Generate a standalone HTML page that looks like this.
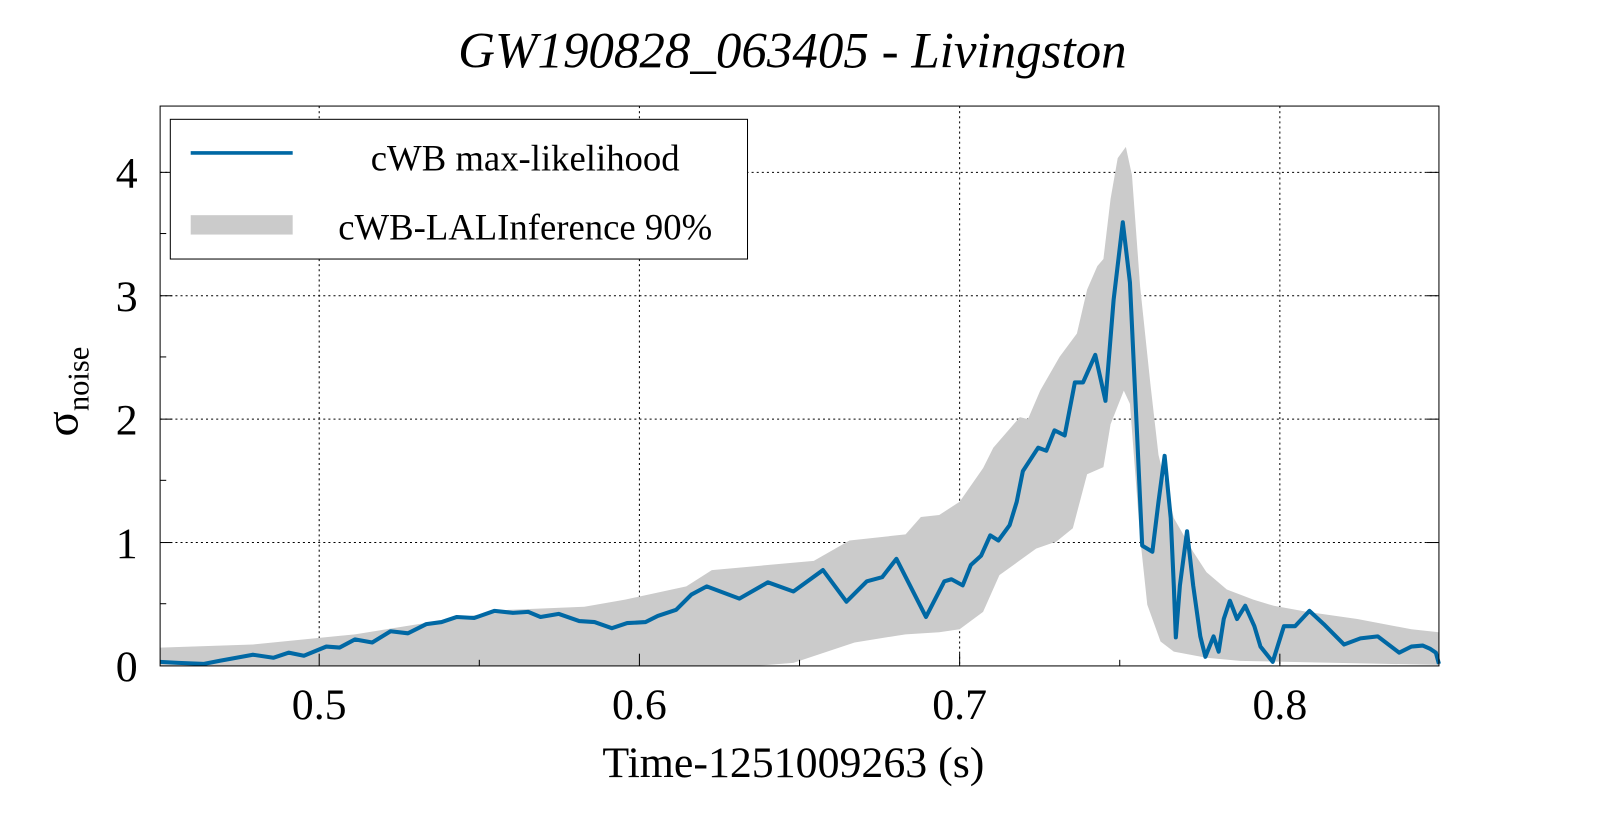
<!DOCTYPE html>
<html><head><meta charset="utf-8"><style>body{margin:0;background:#fff}svg{display:block}</style></head>
<body>
<svg width="1599" height="813" xmlns="http://www.w3.org/2000/svg" font-family="Liberation Serif, serif">
<rect width="1599" height="813" fill="#fff"/>
<g transform="scale(1.0198)">
<text x="777" y="66" font-size="50" font-style="italic" text-anchor="middle">GW190828_063405 - Livingston</text>
<g stroke="#000" stroke-width="1" stroke-dasharray="2,3">
<line x1="313" y1="104" x2="313" y2="653"/><line x1="627" y1="104" x2="627" y2="653"/><line x1="941" y1="104" x2="941" y2="653"/><line x1="1255" y1="104" x2="1255" y2="653"/>
<line x1="157" y1="532" x2="1411" y2="532"/><line x1="157" y1="411" x2="1411" y2="411"/><line x1="157" y1="290" x2="1411" y2="290"/><line x1="157" y1="169" x2="1411" y2="169"/>
</g>
<polygon fill="#cbcbcb" points="157,635 248,632 348,622 398,614 498,598 573,595 613,588 673,575 698,559 798,550 833,530 888,524 903,507 921,505 941,492 964,459 974,439 1000,409 1008,411 1020,383 1039,350 1056,327 1066,284 1076,261 1082,254 1089,195 1096,155 1104,144 1110,172 1118,281 1128,376 1136,446 1151,508 1170,541 1183,561 1203,578 1229,588 1249,594 1282,600 1331,607 1384,617 1411,620 1411,652 1216,648 1183,645 1151,639 1138,629 1125,593 1118,527 1108,396 1102,383 1089,416 1082,458 1066,465 1052,518 1036,531 1016,538 980,564 964,600 941,617 921,620 888,622 838,630 778,650 740,653 157,653"/>
<polyline fill="none" stroke="#0068a4" stroke-width="4" stroke-linejoin="round" points="157,649 175,650 200,651 215,648 248,642 268,645 283,640 298,643 320,634 333,635 348,627 365,630 383,619 400,621 418,612 433,610 448,605 465,606 485,599 503,601 518,600 530,605 548,602 568,609 583,610 600,616 615,611 633,610 645,604 663,598 678,583 693,575 725,587 753,571 778,580 807,559 830,590 850,570 865,566 879,548 908,605 926,570 933,568 944,574 952,554 962,545 971,525 979,530 990,515 997,492 1003,462 1018,439 1026,442 1034,422 1044,427 1054,375 1062,375 1074,348 1084,393 1092,294 1101,218 1108,277 1115,426 1120,535 1130,541 1136,492 1142,447 1148,508 1151,574 1153,625 1157,574 1164,521 1170,574 1177,624 1182,644 1190,624 1195,639 1200,607 1206,589 1213,607 1221,594 1230,614 1236,634 1248,649 1259,614 1270,614 1284,599 1298,612 1318,632 1334,626 1351,624 1372,640 1384,634 1395,633 1402,636 1408,640 1411,651"/>
<rect x="157" y="104" width="1254" height="549" fill="none" stroke="#000" stroke-width="1"/>
<g stroke="#000" stroke-width="1">
<line x1="157" y1="532" x2="169" y2="532"/><line x1="157" y1="411" x2="169" y2="411"/><line x1="157" y1="290" x2="169" y2="290"/><line x1="157" y1="169" x2="169" y2="169"/>
<line x1="157" y1="592" x2="163" y2="592"/><line x1="157" y1="471" x2="163" y2="471"/><line x1="157" y1="350" x2="163" y2="350"/><line x1="157" y1="229" x2="163" y2="229"/>
<line x1="1399" y1="532" x2="1411" y2="532"/><line x1="1399" y1="411" x2="1411" y2="411"/><line x1="1399" y1="290" x2="1411" y2="290"/><line x1="1399" y1="169" x2="1411" y2="169"/>
<line x1="313" y1="641" x2="313" y2="653"/><line x1="627" y1="641" x2="627" y2="653"/><line x1="941" y1="641" x2="941" y2="653"/><line x1="1255" y1="641" x2="1255" y2="653"/>
<line x1="470" y1="647" x2="470" y2="653"/><line x1="784" y1="647" x2="784" y2="653"/><line x1="1098" y1="647" x2="1098" y2="653"/>
</g>
<g font-size="43" text-anchor="end">
<text x="135" y="668">0</text><text x="135" y="547">1</text><text x="135" y="426">2</text><text x="135" y="305">3</text><text x="135" y="184">4</text>
</g>
<g font-size="43" text-anchor="middle">
<text x="313" y="705">0.5</text><text x="627" y="705">0.6</text><text x="941" y="705">0.7</text><text x="1255" y="705">0.8</text>
<text x="778" y="762">Time-1251009263 (s)</text>
</g>
<text transform="translate(76,428) rotate(-90)" font-size="46">σ<tspan font-size="30" dy="11">noise</tspan></text>
<rect x="167" y="117" width="566" height="137" fill="#fff" stroke="#000" stroke-width="1"/>
<line x1="187" y1="150" x2="287" y2="150" stroke="#0068a4" stroke-width="3.5"/>
<rect x="187" y="211" width="100" height="19" fill="#cbcbcb"/>
<g font-size="36" text-anchor="middle">
<text x="515" y="167">cWB max-likelihood</text>
<text x="515" y="235">cWB-LALInference 90%</text>
</g>
</g>
</svg>
</body></html>
